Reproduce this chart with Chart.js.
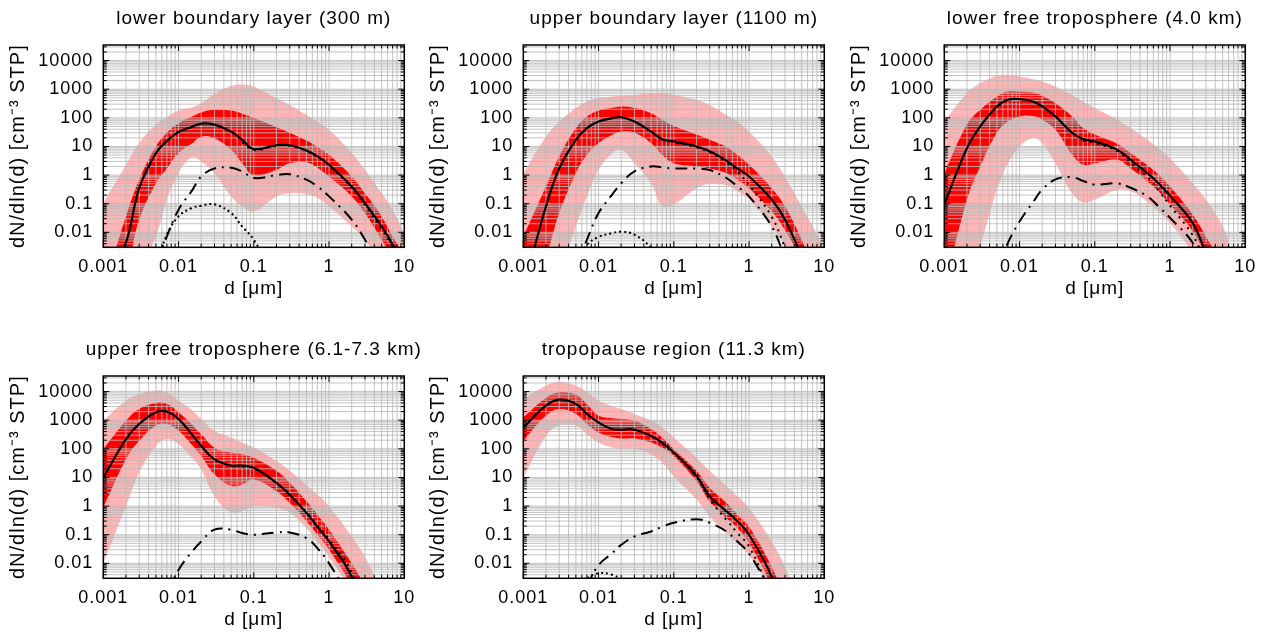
<!DOCTYPE html>
<html>
<head>
<meta charset="utf-8">
<script src="https://cdn.jsdelivr.net/npm/chart.js@4.4.1/dist/chart.umd.min.js"></script>
<style>
  html, body { margin: 0; padding: 0; background: #fff; overflow: hidden; }
  #wrap { position: relative; width: 1268px; height: 637px; }
  .panel { position: absolute; width: 420px; height: 320px; }
</style>
</head>
<body>
<div id="wrap">
  <div class="panel" style="left:0px;top:0px"><canvas id="c0" width="420" height="320"></canvas></div>
  <div class="panel" style="left:420px;top:0px"><canvas id="c1" width="420" height="320"></canvas></div>
  <div class="panel" style="left:841px;top:0px"><canvas id="c2" width="420" height="320"></canvas></div>
  <div class="panel" style="left:0px;top:331px"><canvas id="c3" width="420" height="320"></canvas></div>
  <div class="panel" style="left:420px;top:331px"><canvas id="c4" width="420" height="320"></canvas></div>
</div>
<script>
// particle diameter grid (µm) shared by every series
const D = [0.001, 0.002, 0.003, 0.005, 0.007, 0.01, 0.015, 0.02, 0.03, 0.05, 0.07,
           0.1, 0.2, 0.3, 0.5, 0.7, 1, 2, 3, 5, 7, 10];

const titles = [
  'lower boundary layer (300 m)',
  'upper boundary layer (1100 m)',
  'lower free troposphere (4.0 km)',
  'upper free troposphere (6.1-7.3 km)',
  'tropopause region (11.3 km)'
];

const xTicks = [0.001, 0.01, 0.1, 1, 10];
const xTickText = ['0.001', '0.01', '0.1', '1', '10'];
const yTicks = [0.01, 0.1, 1, 10, 100, 1000, 10000];
const yTickText = ['0.01', '0.1', '1', '10', '100', '1000', '10000'];

// lower boundary layer
const lblFit = [0.0001, 0.0045, 0.35, 5.8, 15.5, 32, 48, 63, 58, 33, 17, 8.1, 11, 11, 7.2, 4.5, 2.3, 0.40, 0.105, 0.016, 0.0037, 0.0005];
const lblAcc = [null, null, null, null, null, null, null, null, null, null, 14, 7.5, 10.5, 10.5, 7.0, 4.3, 2.1, 0.36, 0.09, 0.013, 0.003, 0.0004];
const lblAit = [null, null, null, 0.0008, 0.0072, 0.062, 0.28, 0.89, 1.7, 1.8, 1.35, 0.79, 1.0, 1.07, 0.69, 0.40, 0.18, 0.028, 0.0055, 0.0005, null, null];
const lblNuc = [null, null, null, 0.0006, 0.0083, 0.036, 0.071, 0.085, 0.095, 0.047, 0.016, 0.0055, 0.0002, null, null, null, null, null, null, null, null, null];
const lblQ75 = [0.0001, 0.036, 0.7, 10, 30, 65, 110, 155, 190, 180, 140, 98, 47, 30, 16, 9.5, 5.1, 0.89, 0.23, 0.036, 0.0072, 0.0016];
const lblQ25 = [0.00003, 0.0005, 0.028, 0.52, 1.7, 5.9, 12.6, 22, 19.5, 7.6, 2.6, 1.0, 1.55, 2.6, 2.8, 1.8, 0.89, 0.18, 0.047, 0.0055, 0.0011, 0.00016];
const lblP95 = [0.105, 2.3, 13, 58, 105, 180, 230, 330, 700, 1300, 1450, 1230, 490, 280, 126, 74, 38, 5.9, 1.55, 0.23, 0.062, 0.0095];
const lblP05 = [0.00003, 0.0001, 0.0005, 0.0072, 0.14, 1.17, 4.2, 3.0, 1.17, 0.18, 0.081, 0.054, 0.18, 0.23, 0.22, 0.16, 0.081, 0.016, 0.0055, 0.0006, 0.0001, 0.00001];

// upper boundary layer
const ublFit = [0.0001, 0.08, 1.7, 17, 44, 74, 96, 105, 74, 33, 18, 15, 10, 6.8, 3.2, 1.7, 0.89, 0.14, 0.028, 0.0014, 0.0001, null];
const ublAcc = [null, null, null, null, null, null, null, null, null, null, 17, 14, 9.3, 6.2, 2.8, 1.3, 0.45, 0.035, 0.003, 0.0001, null, null];
const ublAit = [null, null, null, 0.0006, 0.0055, 0.047, 0.2, 0.52, 1.35, 2.0, 1.86, 1.7, 1.7, 1.5, 0.79, 0.40, 0.18, 0.016, 0.0013, null, null, null];
const ublNuc = [null, null, null, 0.001, 0.0037, 0.0069, 0.0093, 0.0105, 0.0083, 0.0028, 0.0006, null, null, null, null, null, null, null, null, null, null, null];
const ublQ75 = [0.0072, 0.40, 4.5, 44, 112, 180, 220, 250, 220, 145, 85, 52, 26, 17, 9.5, 5.1, 2.3, 0.35, 0.081, 0.0055, 0.0006, 0.00005];
const ublQ25 = [0.00003, 0.0015, 0.047, 1.17, 5.1, 13, 25, 33, 30, 13, 5.1, 2.6, 2.0, 1.7, 1.17, 0.69, 0.35, 0.054, 0.012, 0.001, 0.0001, 0.00001];
const ublP95 = [1.17, 22, 74, 220, 370, 490, 550, 590, 630, 720, 720, 630, 430, 280, 126, 74, 33, 4.5, 0.89, 0.081, 0.016, 0.0032];
const ublP05 = [0.00001, 0.00005, 0.0004, 0.016, 0.18, 1.55, 5.6, 7.6, 2.6, 0.52, 0.081, 0.095, 0.35, 0.5, 0.44, 0.27, 0.14, 0.016, 0.0032, 0.0002, 0.00002, 0.000002];

// lower free troposphere
const lftFit = [0.095, 8.7, 50, 250, 430, 450, 370, 250, 112, 30, 18, 15, 7.6, 3.4, 1.17, 0.52, 0.19, 0.021, 0.0019, 0.0001, null, null];
const lftAcc = [null, null, null, null, null, null, null, null, null, null, 16, 13, 6.8, 2.6, 0.85, 0.3, 0.085, 0.008, 0.0008, null, null, null];
const lftAit = [null, null, null, 0.0005, 0.0043, 0.024, 0.11, 0.31, 0.71, 0.85, 0.62, 0.47, 0.51, 0.36, 0.18, 0.081, 0.032, 0.0043, 0.0004, null, null, null];
const lftQ75 = [1.17, 58, 190, 550, 830, 830, 760, 590, 320, 112, 44, 26, 12.3, 5.9, 2.2, 1.05, 0.40, 0.042, 0.0072, 0.0006, 0.00003, 0.000003];
const lftQ25 = [0.0001, 0.14, 2.0, 30, 74, 112, 115, 85, 38, 5.1, 2.3, 2.6, 3.4, 1.7, 0.6, 0.27, 0.093, 0.011, 0.0014, 0.00005, 0.000005, 0.0000005];
const lftP95 = [74, 720, 1600, 2950, 3200, 2750, 2240, 1860, 1230, 630, 370, 220, 85, 44, 17, 8.7, 3.9, 0.52, 0.14, 0.016, 0.0013, 0.0001];
const lftP05 = [0.00001, 0.0001, 0.0032, 0.31, 2.6, 10, 19.5, 13, 2.6, 0.23, 0.11, 0.14, 0.31, 0.27, 0.12, 0.054, 0.021, 0.0019, 0.0002, 0.00002, 0.000002, 0.0000002];

// upper free troposphere
const uftFit = [9.8, 220, 740, 1900, 2000, 1100, 320, 126, 43, 26, 26, 22, 6.5, 2.5, 0.58, 0.19, 0.058, 0.0034, 0.0001, null, null, null];
const uftAcc = [null, null, null, null, null, null, null, null, null, null, 24, 21, 6.3, 2.4, 0.6, 0.21, 0.07, 0.005, 0.0002, null, null, null];
const uftAit = [null, null, null, null, 0.0008, 0.0059, 0.025, 0.058, 0.15, 0.15, 0.115, 0.1, 0.12, 0.12, 0.076, 0.034, 0.01, 0.0005, null, null, null, null];
const uftQ75 = [98, 950, 2450, 4000, 3700, 1900, 710, 320, 110, 74, 65, 49, 17, 6.5, 1.48, 0.5, 0.15, 0.01, 0.0016, 0.0001, 0.00001, 0.000001];
const uftQ25 = [0.89, 43, 190, 650, 740, 430, 140, 56, 13, 5.0, 5.6, 8.5, 3.3, 1.3, 0.3, 0.1, 0.03, 0.0016, 0.0001, 0.00001, 0.000001, 0.0000001];
const uftP95 = [950, 4900, 8300, 11000, 9500, 4900, 2240, 1100, 430, 250, 166, 110, 38, 17, 5.6, 2.5, 0.98, 0.087, 0.017, 0.001, 0.0001, 0.00001];
const uftP05 = [0.01, 0.98, 15, 126, 220, 145, 50, 19, 2.2, 0.58, 0.66, 0.98, 0.85, 0.58, 0.17, 0.058, 0.017, 0.001, 0.0001, 0.00001, 0.000001, 0.0000001];

// tropopause region
const tpFit = [560, 3200, 5200, 3700, 1660, 830, 490, 470, 470, 280, 166, 74, 11.5, 2.2, 0.66, 0.3, 0.1, 0.0034, 0.0001, null, null, null];
const tpAcc = [null, null, null, null, null, null, null, null, null, null, 150, 70, 10, 1.7, 0.33, 0.115, 0.039, 0.0008, null, null, null, null];
const tpAit = [null, null, null, null, 0.0015, 0.0087, 0.022, 0.044, 0.087, 0.13, 0.19, 0.26, 0.35, 0.26, 0.13, 0.058, 0.022, 0.001, null, null, null, null];
const tpNuc = [null, null, null, 0.0005, 0.0028, 0.0045, 0.004, 0.0026, 0.0005, null, null, null, null, null, null, null, null, null, null, null, null, null];
const tpQ75 = [1260, 6000, 9500, 7800, 3700, 1450, 1170, 1100, 950, 490, 250, 98, 17, 4.4, 1.3, 0.5, 0.19, 0.0076, 0.0006, 0.00003, 0.000003, 0.0000003];
const tpQ25 = [190, 1450, 2450, 1660, 740, 370, 260, 230, 230, 166, 110, 56, 7.4, 1.48, 0.38, 0.17, 0.05, 0.0016, 0.0001, 0.00001, 0.000001, 0.0000001];
const tpP95 = [5500, 16000, 22000, 16000, 9500, 4900, 3200, 2450, 1660, 950, 560, 250, 49, 17, 5.0, 2.2, 0.85, 0.058, 0.0076, 0.0003, 0.00002, 0.000002];
const tpP05 = [9.8, 280, 650, 650, 320, 166, 112, 100, 100, 65, 33, 11, 1.7, 0.44, 0.115, 0.05, 0.019, 0.001, 0.0001, 0.00001, 0.000001, 0.0000001];

const FONT = "'Liberation Sans', Arial, Helvetica, sans-serif";
const PINK = '#ffb5b5';
const RED = '#ff0000';
const GRID = 'rgba(185,185,185,0.85)';
const X_MIN = 0.001, X_MAX = 10;
const Y_MIN = 0.003, Y_MAX = 35000;

const lineStyles = {
  fit: { dash: [], width: 2.2 },
  acc: { dash: [2, 5], width: 2 },
  ait: { dash: [12, 6, 2, 6], width: 2 },
  nuc: { dash: [2, 3], width: 2 }
};

const panels = [
  { id: 'c0', title: titles[0], lines: { fit: lblFit, acc: lblAcc, ait: lblAit, nuc: lblNuc }, q75: lblQ75, q25: lblQ25, p95: lblP95, p05: lblP05 },
  { id: 'c1', title: titles[1], lines: { fit: ublFit, acc: ublAcc, ait: ublAit, nuc: ublNuc }, q75: ublQ75, q25: ublQ25, p95: ublP95, p05: ublP05 },
  { id: 'c2', title: titles[2], lines: { fit: lftFit, acc: lftAcc, ait: lftAit }, q75: lftQ75, q25: lftQ25, p95: lftP95, p05: lftP05 },
  { id: 'c3', title: titles[3], lines: { fit: uftFit, acc: uftAcc, ait: uftAit }, q75: uftQ75, q25: uftQ25, p95: uftP95, p05: uftP05 },
  { id: 'c4', title: titles[4], lines: { fit: tpFit, acc: tpAcc, ait: tpAit, nuc: tpNuc }, q75: tpQ75, q25: tpQ25, p95: tpP95, p05: tpP05 }
];

// 1..9 x 10^n positions inside [min, max]; m === 1 marks a decade
function logSteps(min, max) {
  const out = [];
  for (let e = Math.floor(Math.log10(min)); e <= Math.ceil(Math.log10(max)); e++) {
    for (let m = 1; m <= 9; m++) {
      const v = m * Math.pow(10, e);
      if (v >= min * 0.9999 && v <= max * 1.0001) out.push([v, m === 1]);
    }
  }
  return out;
}

function drawGrid(chart) {
  const { ctx, chartArea: a, scales: { x, y } } = chart;
  ctx.save();
  ctx.beginPath();
  ctx.rect(a.left, a.top, a.right - a.left, a.bottom - a.top);
  ctx.clip();
  ctx.strokeStyle = GRID;
  ctx.lineWidth = 1;
  ctx.beginPath();
  for (const [v] of logSteps(x.min, x.max)) {
    const px = x.getPixelForValue(v);
    ctx.moveTo(px, a.top); ctx.lineTo(px, a.bottom);
  }
  for (const [v] of logSteps(y.min, y.max)) {
    const py = y.getPixelForValue(v);
    ctx.moveTo(a.left, py); ctx.lineTo(a.right, py);
  }
  ctx.stroke();
  ctx.restore();
}

function drawFrame(chart) {
  const { ctx, chartArea: a, scales: { x, y } } = chart;
  ctx.save();
  ctx.strokeStyle = '#000';
  ctx.lineWidth = 1;
  ctx.beginPath();
  for (const [v, major] of logSteps(x.min, x.max)) {
    const px = x.getPixelForValue(v), len = major ? 6 : 3.5;
    ctx.moveTo(px, a.top); ctx.lineTo(px, a.top + len);
    ctx.moveTo(px, a.bottom); ctx.lineTo(px, a.bottom - len);
  }
  for (const [v, major] of logSteps(y.min, y.max)) {
    const py = y.getPixelForValue(v), len = major ? 6 : 3.5;
    ctx.moveTo(a.left, py); ctx.lineTo(a.left + len, py);
    ctx.moveTo(a.right, py); ctx.lineTo(a.right - len, py);
  }
  ctx.stroke();
  ctx.lineWidth = 1.5;
  ctx.strokeRect(a.left, a.top, a.right - a.left, a.bottom - a.top);
  ctx.restore();
}

const framePlugin = {
  id: 'frame',
  beforeUpdate(chart) { chart.ctx.letterSpacing = '1px'; },
  beforeDraw(chart) { chart.ctx.letterSpacing = '1px'; },
  // grid sits above the shaded bands but below the curves
  beforeDatasetDraw(chart, args, opts) { if (args.index === opts.gridBefore) drawGrid(chart); },
  afterDatasetsDraw(chart) { drawFrame(chart); },
  // panel heading, centred over the plotting area
  afterDraw(chart, args, opts) {
    const { ctx, chartArea: a } = chart;
    ctx.save();
    ctx.letterSpacing = '1px';
    ctx.font = '19px ' + FONT;
    ctx.fillStyle = '#000';
    ctx.textAlign = 'center';
    ctx.textBaseline = 'alphabetic';
    ctx.fillText(opts.title, (a.left + a.right) / 2, a.top - 21);
    ctx.restore();
  }
};

function lineSet(data, st) {
  return {
    data, borderColor: '#000', borderWidth: st.width, borderDash: st.dash, borderCapStyle: 'butt',
    pointRadius: 0, fill: false, tension: 0.4, spanGaps: false, clip: 0
  };
}
function bandSet(data, color, target) {
  return {
    data, borderColor: 'rgba(0,0,0,0)', borderWidth: 0, backgroundColor: color,
    pointRadius: 0, fill: target, tension: 0.4, clip: 0
  };
}

for (const p of panels) {
  const datasets = [];
  for (const key of ['fit', 'acc', 'ait', 'nuc']) {
    if (p.lines[key]) datasets.push(lineSet(p.lines[key], lineStyles[key]));
  }
  const k = datasets.length;
  datasets.push(bandSet(p.q75, RED, k + 1));
  datasets.push(bandSet(p.q25, RED, false));
  datasets.push(bandSet(p.p95, PINK, k + 3));
  datasets.push(bandSet(p.p05, PINK, false));

  new Chart(document.getElementById(p.id), {
    type: 'line',
    data: { labels: D, datasets },
    plugins: [framePlugin],
    options: {
      responsive: false,
      animation: false,
      events: [],
      layout: { padding: { left: 0, right: 15.7, top: 45, bottom: 0 } },
      plugins: {
        legend: { display: false },
        tooltip: { enabled: false },
        title: { display: false },
        frame: { gridBefore: k - 1, title: p.title }
      },
      scales: {
        x: {
          type: 'logarithmic', position: 'bottom', min: X_MIN, max: X_MAX,
          grid: { display: false, drawTicks: false }, border: { display: false },
          afterBuildTicks: (s) => { s.ticks = xTicks.map((v) => ({ value: v })); },
          afterFit: (s) => { s.height = 72.7; },
          ticks: {
            autoSkip: false, maxRotation: 0, padding: 3, color: '#000',
            font: { family: FONT, size: 18, lineHeight: 1.9 },
            callback: (v, i) => xTickText[i]
          },
          title: {
            display: true, text: 'd [μm]', color: '#000',
            font: { family: FONT, size: 19 }, padding: { top: 0, bottom: 19.6 }
          }
        },
        y: {
          type: 'logarithmic', position: 'left', min: Y_MIN, max: Y_MAX,
          grid: { display: false, drawTicks: false }, border: { display: false },
          afterBuildTicks: (s) => { s.ticks = yTicks.map((v) => ({ value: v })); },
          afterFit: (s) => { s.width = 103.3; },
          ticks: {
            autoSkip: false, padding: 10, color: '#000',
            font: { family: FONT, size: 18 },
            callback: (v, i) => yTickText[i]
          },
          title: {
            display: true, text: 'dN/dln(d) [cm⁻³ STP]', color: '#000',
            font: { family: FONT, size: 20 }, padding: { top: 6, bottom: 0 }
          }
        }
      }
    }
  });
}
</script>
</body>
</html>
